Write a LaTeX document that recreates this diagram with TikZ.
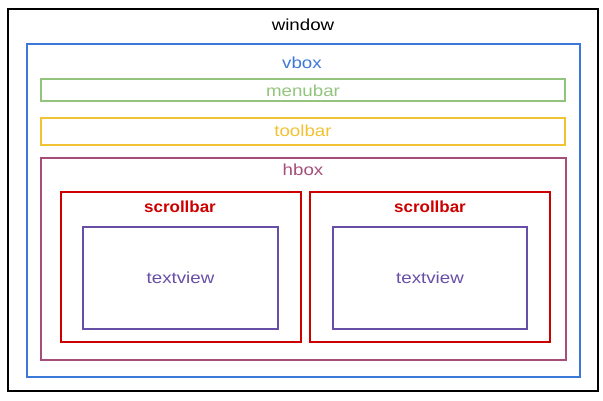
\documentclass[tikz,border=0pt]{standalone}
\usepackage{fontspec}
\setmainfont{Liberation Sans}
\definecolor{cwin}{HTML}{000000}
\definecolor{cvbox}{HTML}{3C78D8}
\definecolor{cmenu}{HTML}{93C47D}
\definecolor{ctool}{HTML}{F1C232}
\definecolor{chbox}{HTML}{A64D79}
\definecolor{cscroll}{HTML}{CC0000}
\definecolor{ctext}{HTML}{674EA7}
\newcommand{\wtxt}[1]{\scalebox{1.17}[1]{#1}}
\newcommand{\btxt}[1]{\scalebox{1.06}[1]{#1}}
\begin{document}
\begin{tikzpicture}[x=1pt,y=-1pt,
  box/.style={draw=#1, line width=1.5pt, inner sep=0pt, minimum width=0pt, minimum height=0pt, rectangle},
  lbl/.style={text=#1, inner sep=0pt, font=\fontsize{16}{18}\selectfont, anchor=center},
  blbl/.style={lbl=#1, font=\fontsize{16}{18}\selectfont\bfseries}]
\useasboundingbox (0,0) rectangle (603,401);
\node[box=cwin, line width=1.8pt, minimum width=590pt, minimum height=382pt] (window) at (303,200) {};
\node[lbl=black] (windowl) at (303,25) {\wtxt{window}};
\node[box=cvbox, minimum width=553pt, minimum height=333pt] (vbox) at (303.5,210.5) {};
\node[lbl=cvbox] (vboxl) at (302,63) {\wtxt{vbox}};
\node[box=cmenu, minimum width=524pt, minimum height=22pt] (menubar) at (303,90) {};
\node[lbl=cmenu] (menubarl) at (303,91) {\wtxt{menubar}};
\node[box=ctool, minimum width=524pt, minimum height=27pt] (toolbar) at (303,131.5) {};
\node[lbl=ctool] (toolbarl) at (303,131) {\wtxt{toolbar}};
\node[box=chbox, minimum width=525pt, minimum height=202pt] (hbox) at (303.5,259) {};
\node[lbl=chbox] (hboxl) at (303,170) {\wtxt{hbox}};
\node[box=cscroll, minimum width=240pt, minimum height=150pt] (scrollL) at (181,267) {};
\node[blbl=cscroll] (scrollLl) at (180,207) {\btxt{scrollbar}};
\node[box=cscroll, minimum width=240pt, minimum height=150pt] (scrollR) at (430,267) {};
\node[blbl=cscroll] (scrollRl) at (430,207) {\btxt{scrollbar}};
\node[box=ctext, minimum width=195pt, minimum height=102pt] (textL) at (180.5,278) {};
\node[lbl=ctext] (textLl) at (180.5,278) {\wtxt{textview}};
\node[box=ctext, minimum width=194pt, minimum height=102pt] (textR) at (430,278) {};
\node[lbl=ctext] (textRl) at (430,278) {\wtxt{textview}};
\end{tikzpicture}
\end{document}
